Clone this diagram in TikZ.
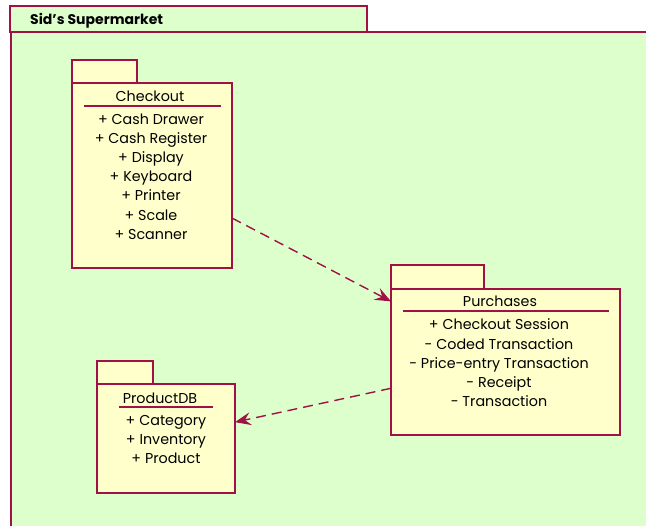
\documentclass[tikz,border=0pt]{standalone}
\usepackage{fontspec}
\setmainfont{Poppins}
\usetikzlibrary{arrows.meta,calc}
\definecolor{edge}{RGB}{160,18,70}
\definecolor{pkgfill}{RGB}{255,255,204}
\definecolor{frame}{RGB}{221,255,204}
\tikzset{
  box/.style={draw=edge,line width=1.4pt,inner sep=0pt,outer sep=0pt,anchor=north west},
  pkg/.style={box,fill=pkgfill},
  title/.style={font=\fontsize{14.3}{16}\selectfont,inner sep=0pt,anchor=base},
  item/.style={font=\fontsize{14.3}{16}\selectfont,inner sep=0pt,anchor=base},
  rule/.style={draw=edge,line width=1.3pt},
  dep/.style={draw=edge,line width=1.4pt,dash pattern=on 10pt off 6pt,-{Stealth[length=16pt,width=13pt,inset=6pt]}}
}
\begin{document}
\begin{tikzpicture}[x=1pt,y=-1pt]
\useasboundingbox (0,0) rectangle (646,526);
% outer frame
\node[box,fill=frame,minimum width=357pt,minimum height=26pt] (sidtab) at (10,6) {};
\node[box,fill=frame,minimum width=640pt,minimum height=500pt] (sid) at (11,32) {};
\node[font=\bfseries\fontsize{14}{15}\selectfont,inner sep=0pt,anchor=base west] (sidtitle) at (30,24.5) {Sid’s Supermarket};
% Checkout
\node[pkg,minimum width=65pt,minimum height=24pt] (chktab) at (72,60) {};
\node[pkg,minimum width=160pt,minimum height=185pt] (chk) at (72,83) {};
\node[title] (chktitle) at (150,102) {Checkout};
\coordinate (chkl) at (84,106);
\coordinate (chkr) at (221,106);
\draw[rule] (chkl) -- (chkr);
\foreach \t [count=\i] in {+ Cash Drawer,+ Cash Register,+ Display,+ Keyboard,+ Printer,+ Scale,+ Scanner}
  \node[item] (chk-\i) at (151,{124.3+19.15*(\i-1)}) {\t};
% Purchases
\node[pkg,minimum width=93pt,minimum height=25pt] (purtab) at (391,265) {};
\node[pkg,minimum width=229pt,minimum height=146pt] (pur) at (391,289) {};
\node[title] (purtitle) at (500,306.7) {Purchases};
\coordinate (purl) at (403,311);
\coordinate (purr) at (609,311);
\draw[rule] (purl) -- (purr);
\foreach \t [count=\i] in {+ Checkout Session,- Coded Transaction,- Price-entry Transaction,- Receipt,- Transaction}
  \node[item] (pur-\i) at (499,{330+19.2*(\i-1)}) {\t};
% ProductDB
\node[pkg,minimum width=56pt,minimum height=23pt] (dbtab) at (97,361) {};
\node[pkg,minimum width=138pt,minimum height=109pt] (db) at (97,384) {};
\node[title] (dbtitle) at (160,403.3) {ProductDB};
\coordinate (dbl) at (119,407);
\coordinate (dbr) at (213,407);
\draw[rule] (dbl) -- (dbr);
\foreach \t [count=\i] in {+ Category,+ Inventory,+ Product}
  \node[item] (db-\i) at (166,{426+18.7*(\i-1)}) {\t};
% dependencies
\coordinate (a1s) at ($(chk.north east)!0.73!(chk.south east)$);
\coordinate (a1e) at ($(pur.north west)!0.085!(pur.south west)$);
\draw[dep] (a1s) -- (a1e);
\coordinate (a2s) at ($(pur.north west)!0.68!(pur.south west)$);
\coordinate (a2e) at ($(db.north east)!0.35!(db.south east)$);
\draw[dep] (a2s) -- (a2e);
\end{tikzpicture}
\end{document}
